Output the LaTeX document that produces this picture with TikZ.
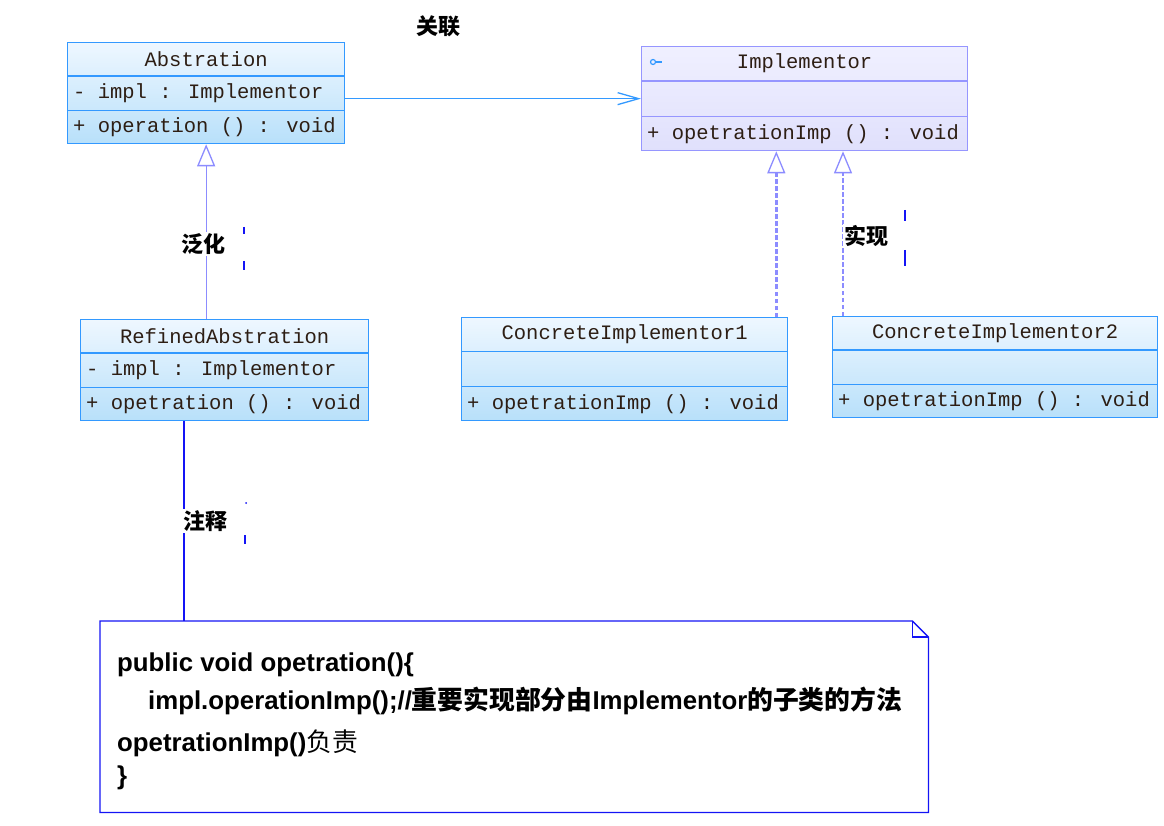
\documentclass[tikz,border=0pt]{standalone}
\usepackage{fontspec}
\setmainfont{Liberation Sans}
\newfontfamily\monof{Liberation Mono}
\newfontfamily\cjk{Noto Sans CJK SC}
\usetikzlibrary{arrows.meta,calc}
\definecolor{boxborder}{RGB}{51,153,255}
\definecolor{boxtop}{RGB}{238,247,255}
\definecolor{boxbot}{RGB}{184,224,250}
\definecolor{impltop}{RGB}{240,240,255}
\definecolor{implbot}{RGB}{224,224,252}
\definecolor{implborder}{RGB}{150,150,255}
\definecolor{genline}{RGB}{140,140,255}
\definecolor{notelineC}{RGB}{20,20,245}
\definecolor{txt}{RGB}{45,30,20}
\tikzset{
  x=1pt, y=-1pt,
  cls/.style={shade, top color=boxtop, bottom color=boxbot, draw=boxborder, line width=1.3pt, inner sep=0pt},
  clsline/.style={draw=boxborder, line width=1.3pt},
  icls/.style={shade, top color=impltop, bottom color=implbot, draw=implborder, line width=1.3pt, inner sep=0pt},
  iclsline/.style={draw=implborder, line width=1.3pt},
  member/.style={inner sep=0pt, text=txt, font=\monof\fontsize{20.5}{22}\selectfont},
  assoc/.style={draw=boxborder, line width=1.3pt, -{Straight Barb[length=21pt,width=12pt,line width=1.3pt]}},
  gen/.style={draw=genline, line width=1.3pt, -{Triangle[open, length=22pt, width=18pt, line width=1.3pt, fill=white]}},
  real/.style={draw=genline, line width=2.5pt, dash pattern=on 4.5pt off 2.5pt, -{Triangle[open, length=22pt, width=18pt, line width=1.3pt, fill=white]}},
  notelink/.style={draw=notelineC, line width=1.3pt},
  tick/.style={draw=notelineC, line width=1.3pt},
  lbl/.style={fill=white, inner sep=1pt, text=black, font=\cjk\bfseries\fontsize{22}{24}\selectfont},
  notetxt/.style={inner sep=0pt, anchor=base west, text=black, font=\bfseries\fontsize{25.8}{28}\selectfont},
}
\newcommand{\umlclass}[9]{%
  \node[#2, minimum width=#5pt, minimum height=#6pt, anchor=north west] (#1) at (#3,#4) {};
  \draw[#2line] ($(#1.north west)!1/3!(#1.south west)$) -- ($(#1.north east)!1/3!(#1.south east)$);
  \draw[#2line] ($(#1.north west)!2/3!(#1.south west)$) -- ($(#1.north east)!2/3!(#1.south east)$);
  \node[member] (#1-t) at ($(#1.north)!1/6!(#1.south)$) {#7};
  \node[member, anchor=west] (#1-a) at ($(#1.north west)!1/2!(#1.south west)+(6,0)$) {#8};
  \node[member, anchor=west] (#1-o) at ($(#1.north west)!5/6!(#1.south west)+(6,0)$) {#9};
}
\begin{document}
\begin{tikzpicture}
\useasboundingbox (0,0) rectangle (1164,826);

% classes
\umlclass{abs}{cls}{67}{42}{277}{101}{Abstration}{- impl : Implementor}{+ operation () : void}
\umlclass{impl}{icls}{641}{46}{326}{104}{Implementor}{}{+ opetrationImp () : void}
\umlclass{ref}{cls}{80}{319}{288}{101}{RefinedAbstration}{- impl : Implementor}{+ opetration () : void}
\umlclass{ci1}{cls}{461}{317}{326}{103}{ConcreteImplementor1}{}{+ opetrationImp () : void}
\umlclass{ci2}{cls}{832}{316}{325}{101}{ConcreteImplementor2}{}{+ opetrationImp () : void}

% interface icon
\draw[draw=boxborder, line width=1.2pt] ($(impl.north west)+(12,16)$) circle (2.5pt);
\draw[draw=boxborder, line width=1.2pt] ($(impl.north west)+(14.5,16)$) -- ++(6,0);

% note
\node[minimum width=828pt, minimum height=191pt, anchor=north west, inner sep=0pt] (note) at (100,621) {};
\draw[draw=notelineC, line width=1.3pt]
  (note.north west) -- ($(note.north east)+(-16,0)$) -- ($(note.north east)+(0,16)$)
  -- (note.south east) -- (note.south west) -- cycle;
\draw[draw=notelineC, line width=1.3pt]
  ($(note.north east)+(-16,0)$) -- ($(note.north east)+(-16,16)$) -- ($(note.north east)+(0,16)$);
\node[notetxt] (n1) at (117,671) {public void opetration()\{};
\node[notetxt] (n2) at (148,709) {impl.operationImp();//{\cjk 重要实现部分由}Implementor{\cjk 的子类的方法}};
\node[notetxt] (n3) at (117,751) {opetrationImp(){\cjk\mdseries 负责}};
\node[notetxt] (n4) at (117,784) {\}};

% connectors
\draw[assoc] (abs.east |- impl.west) -- (impl.west);
\draw[gen] (abs.south |- ref.north) -- (abs.south);
\draw[real] (ci1.north east) ++(-12,0) coordinate (r1) -- (r1 |- impl.south);
\draw[real] (ci2.north west) ++(11,0) coordinate (r2) -- (r2 |- impl.south);
\draw[notelink] (ref.south west) ++(104,0) coordinate (nl) -- (nl |- note.north);

% labels
\node[lbl, fill=none] (lassoc) at (438,26) {关联};
\node[lbl] (lgen) at (203,244) {泛化};
\node[lbl] (lreal) at (866,236) {实现};
\node[lbl] (lnote) at (205,521) {注释};

% small tick marks
\coordinate (t1) at (244,227);
\draw[tick] (t1) -- ++(0,7);
\coordinate (t2) at (244,261);
\draw[tick] (t2) -- ++(0,9);
\coordinate (t3) at (905,210);
\draw[tick] (t3) -- ++(0,11);
\coordinate (t4) at (905,250);
\draw[tick] (t4) -- ++(0,16);
\coordinate (t5) at (246,503);
\fill[notelineC] (t5) circle (1pt);
\coordinate (t6) at (245,535);
\draw[tick] (t6) -- ++(0,9);
\end{tikzpicture}
\end{document}
